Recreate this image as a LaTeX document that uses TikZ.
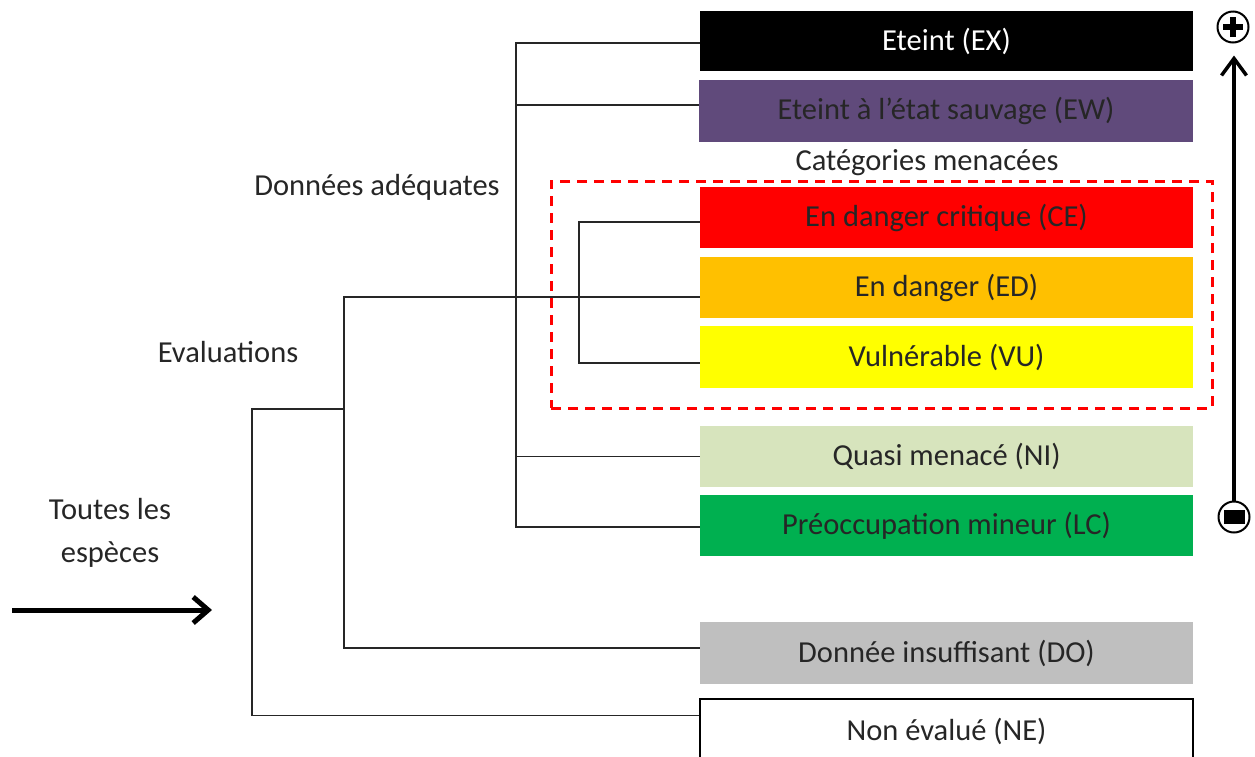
\documentclass[tikz,border=0pt]{standalone}
\usepackage{fontspec}
\setmainfont{Carlito}
\usetikzlibrary{arrows.meta}
\definecolor{txt}{HTML}{262626}
\definecolor{cEW}{HTML}{604A7B}
\definecolor{cCE}{HTML}{FF0000}
\definecolor{cED}{HTML}{FFC000}
\definecolor{cVU}{HTML}{FFFF00}
\definecolor{cNI}{HTML}{D7E4BD}
\definecolor{cLC}{HTML}{00B050}
\definecolor{cDO}{HTML}{BFBFBF}
\tikzset{
  cat/.style={minimum width=493pt, minimum height=61pt, inner sep=0pt, text=txt,
              font=\fontsize{30.5}{35}\selectfont},
  lbl/.style={text=txt, font=\fontsize{30.5}{43}\selectfont, inner sep=0pt, align=center},
  tree/.style={line width=1.4pt, draw=black!85},
}
\begin{document}
\begin{tikzpicture}[x=1pt,y=-1pt]
\useasboundingbox (0,0) rectangle (1255,756);
\clip (0,0) rectangle (1255,756);
% category boxes
\node[cat, fill=black, text=white, minimum height=60pt] (ex) at (946.5,41) {Eteint (EX)};
\node[cat, fill=cEW, minimum width=494pt, minimum height=62pt] (ew) at (946,111) {Eteint à l’état sauvage (EW)};
\node[cat, fill=cCE] (ce) at (946.5,217.5) {En danger critique (CE)};
\node[cat, fill=cED] (ed) at (946.5,287.5) {En danger (ED)};
\node[cat, fill=cVU, minimum height=62pt] (vu) at (946.5,357) {Vulnérable (VU)};
\node[cat, fill=cNI] (ni) at (946.5,456.5) {Quasi menacé (NI)};
\node[cat, fill=cLC] (lc) at (946.5,525.5) {Préoccupation mineur (LC)};
\node[cat, fill=cDO, minimum height=62pt] (do) at (946.5,653) {Donnée insuffisant (DO)};
\node[cat, fill=white, draw=black, line width=2.5pt, minimum height=64pt] (ne) at (946.5,731) {};
\node[lbl] (netext) at (946.5,731) {Non évalué (NE)};
% threatened frame
\node[draw=red, line width=3pt, dash pattern=on 10pt off 7pt, minimum width=661pt, minimum height=227pt, inner sep=0pt] (threat) at (881.5,294.5) {};
\node[lbl] (threatlbl) at (927,163) {Catégories menacées};
% labels
\node[lbl] (adq) at (377,187) {Données adéquates};
\node[lbl] (eval) at (228,352) {Evaluations};
\node[lbl] (all) at (110,533) {Toutes les\\espèces};
% tree
\coordinate (xa) at (516,0);
\coordinate (xt) at (579,0);
\coordinate (xe) at (344,0);
\coordinate (root) at (252,409);
\draw[tree] ([yshift=-2pt]ex.west) -- ([yshift=-2pt]ex.west -| xa) |- ([yshift=-1.5pt]lc.west);
\draw[tree] ([yshift=6pt]ew.west) -- ([yshift=6pt]ew.west -| xa);
\draw[tree] (ni.west) -- (ni.west -| xa);
\draw[tree] ([yshift=-4.5pt]ce.west) -- ([yshift=-4.5pt]ce.west -| xt) |- ([yshift=-6pt]vu.west);
\draw[tree] ([yshift=-9.5pt]ed.west) -- ([yshift=-9.5pt]ed.west -| xe) |- ([yshift=5pt]do.west);
\draw[tree] (root -| xe) -- (root) |- ([yshift=-18pt]ne.north west);
% input arrow
\coordinate (ina) at (12,610);
\coordinate (inb) at (212,610);
\draw[line width=5pt, -{Straight Barb[length=15pt, width=26pt]}] (ina) -- (inb);
% scale
\node[draw=black, circle, line width=2pt, minimum size=31pt, inner sep=0pt] (plus) at (1233,27) {};
\node[draw=black, circle, line width=2pt, minimum size=31pt, inner sep=0pt] (minus) at (1234,517) {};
\draw[line width=5.5pt] ([xshift=-10pt]plus.center) -- ([xshift=10pt]plus.center);
\draw[line width=5.5pt] ([yshift=-10pt]plus.center) -- ([yshift=10pt]plus.center);
\fill[black] ([xshift=-10.5pt,yshift=-7pt]minus.center) rectangle ([xshift=10.5pt,yshift=7pt]minus.center);
\draw[line width=3.5pt, -{Straight Barb[length=17pt, width=25pt]}, shorten >=12pt] (minus.north) -- (minus.north |- plus.south);
\end{tikzpicture}
\end{document}
